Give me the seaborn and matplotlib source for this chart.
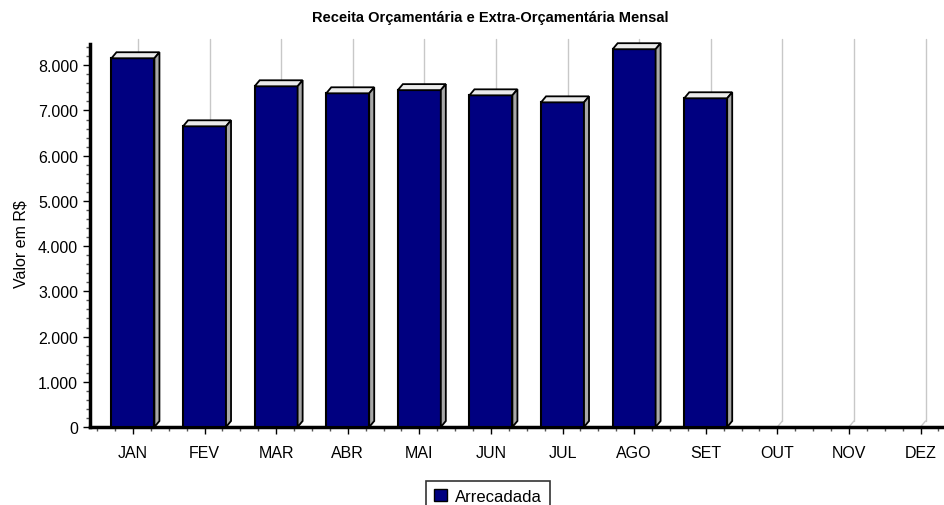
import matplotlib
matplotlib.use("agg")
import matplotlib.pyplot as plt
import numpy as np
import pandas as pd
import seaborn as sns
from matplotlib.patches import Polygon, Rectangle
from matplotlib.ticker import FuncFormatter, MultipleLocator, FixedLocator

meses = ["JAN", "FEV", "MAR", "ABR", "MAI", "JUN", "JUL", "AGO", "SET", "OUT", "NOV", "DEZ"]
meses_com_valor = ["JAN", "FEV", "MAR", "ABR", "MAI", "JUN", "JUL", "AGO", "SET"]
arrecadada = [8155, 6650, 7535, 7380, 7450, 7335, 7180, 8355, 7270]

df = pd.DataFrame({"mes": meses_com_valor, "valor": arrecadada})

sns.set_style("white")
plt.rcParams["font.family"] = ["Liberation Sans", "DejaVu Sans"]
plt.rcParams["text.color"] = "black"
plt.rcParams["axes.labelcolor"] = "black"
plt.rcParams["xtick.labelcolor"] = "black"
plt.rcParams["ytick.labelcolor"] = "black"

fig = plt.figure(figsize=(9.44, 5.06), dpi=100)
ax = fig.add_axes([90 / 944, 78 / 506, 852 / 944, 383 / 506])

navy = "#000080"
sns.barplot(data=df, x="mes", y="valor", order=meses, color=navy,
            width=0.6, edgecolor="black", linewidth=1.5, saturation=1,
            ax=ax, zorder=3)

ax.set_xlim(-0.6, 11.3)
ax.set_ylim(0, 8470)

# 3D depth
dx = 5 / 71.6
dy = 6 / 45.25 * 1000

# vertical grid lines with small floor diagonal
for i in range(len(meses)):
    gx = i + dx
    ax.plot([i, gx], [0, dy], color="#c8c8c8", lw=1, zorder=1)
    ax.plot([gx, gx], [dy, 8580], color="#c8c8c8", lw=1, zorder=1, clip_on=False)

for p in list(ax.patches):
    x0 = p.get_x()
    x1 = x0 + p.get_width()
    h = p.get_height()
    if not np.isfinite(h) or h <= 0:
        continue
    top = Polygon([(x0, h), (x0 + dx, h + dy), (x1 + dx, h + dy), (x1, h)],
                  closed=True, facecolor="#ebebeb", edgecolor="black", lw=1.3,
                  zorder=4, clip_on=False)
    side = Polygon([(x1, 0), (x1, h), (x1 + dx, h + dy), (x1 + dx, dy)],
                   closed=True, facecolor="#a8a8a8", edgecolor="black", lw=1.3,
                   zorder=4, clip_on=False)
    ax.add_patch(top)
    ax.add_patch(side)

# axes styling
for s in ["top", "right"]:
    ax.spines[s].set_visible(False)
ax.spines["left"].set_linewidth(2.5)
ax.spines["bottom"].set_linewidth(2.5)
ax.spines["left"].set_color("black")
ax.spines["bottom"].set_color("black")

ax.yaxis.set_major_locator(MultipleLocator(1000))
ax.yaxis.set_minor_locator(MultipleLocator(200))
ax.yaxis.set_major_formatter(FuncFormatter(lambda v, pos: f"{int(v):,}".replace(",", ".")))
ax.xaxis.set_minor_locator(FixedLocator(np.arange(-0.5, 11.3, 0.25)))

ax.tick_params(axis="both", which="major", direction="out", length=5, width=1,
               color="black", labelsize=11.5, left=True, bottom=True)
ax.tick_params(axis="both", which="minor", direction="out", length=3, width=1,
               color="#555555", left=True, bottom=True)
ax.tick_params(axis="x", pad=8)

ax.set_xlabel("")
ax.set_ylabel("Valor em R$", fontsize=11.5)
ax.yaxis.set_label_coords(-62 / 852, 0.48)

fig.text(490 / 944, 1 - 18 / 506, "Receita Orçamentária e Extra-Orçamentária Mensal",
         ha="center", va="center", fontsize=10.5, fontweight="bold")

handle = Rectangle((0, 0), 1, 1, facecolor=navy, edgecolor="black", lw=1)
leg = fig.legend([handle], ["Arrecadada"], loc="upper center",
                 bbox_to_anchor=(488 / 944, 1 - 482 / 506), frameon=True,
                 fancybox=False, fontsize=12, handlelength=0.8, handleheight=0.8,
                 handletextpad=0.5, borderpad=0.45, borderaxespad=0)
leg.get_frame().set_edgecolor("black")
leg.get_frame().set_linewidth(1.2)

fig.savefig("out.png", dpi=100)
